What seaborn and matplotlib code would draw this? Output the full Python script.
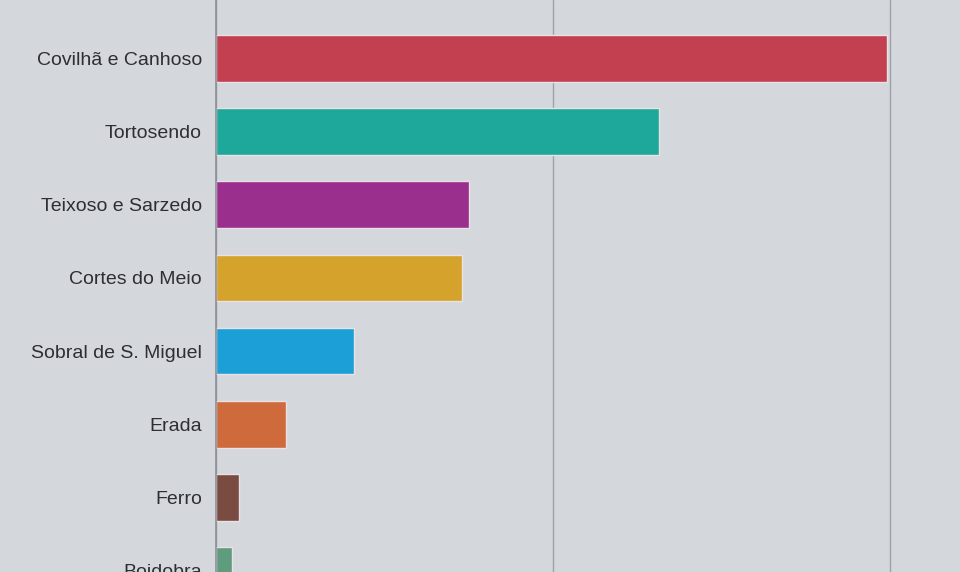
import seaborn as sns
import matplotlib.pyplot as plt
import pandas as pd

# Values (no axis labels visible, grid step taken as 1000)
freguesias = ["Covilhã e Canhoso", "Tortosendo", "Teixoso e Sarzedo", "Cortes do Meio",
              "Sobral de S. Miguel", "Erada", "Ferro", "Boidobra"]
valores = [1990, 1315, 752, 731, 410, 208, 68, 48]
cores = ["#c2404f", "#1ea89b", "#9a2f8e", "#d5a22c", "#1b9fd6", "#cf6a3d", "#7a4b40", "#5f9c7d"]
grid_ticks = [0, 1000, 2000]

df = pd.DataFrame({"freguesia": freguesias, "valor": valores})

sns.set_style("white")
plt.rcParams["font.family"] = ["Liberation Sans", "DejaVu Sans"]

bg = "#d4d7dc"
fig = plt.figure(figsize=(9.6, 5.72), dpi=100, facecolor=bg)
# the photo only shows the top part of the chart, so the axes run past the bottom edge
ax = fig.add_axes([216 / 960, -35 / 572, 744 / 960, 607 / 572])
ax.set_facecolor(bg)

sns.barplot(data=df, x="valor", y="freguesia", hue="freguesia", palette=cores,
            orient="h", width=0.64, legend=False, ax=ax, saturation=1,
            edgecolor="#e8e2e4", linewidth=1.0)

ax.set_xlim(0, 2208)
ax.set_ylim(7.5, -0.8)
ax.set_xticks(grid_ticks)
ax.set_xticklabels([])
ax.xaxis.grid(True, color="#9ea2a8", linewidth=1.0)
ax.set_axisbelow(True)
ax.tick_params(axis="both", length=0)
ax.tick_params(axis="y", labelsize=14, labelcolor="#2e2e33", pad=10)
ax.set_xlabel("")
ax.set_ylabel("")

for side in ["top", "right", "bottom"]:
    ax.spines[side].set_visible(False)
ax.spines["left"].set_color("#8c9096")
ax.spines["left"].set_linewidth(1.2)

fig.savefig("out.png", dpi=100, facecolor=bg)
